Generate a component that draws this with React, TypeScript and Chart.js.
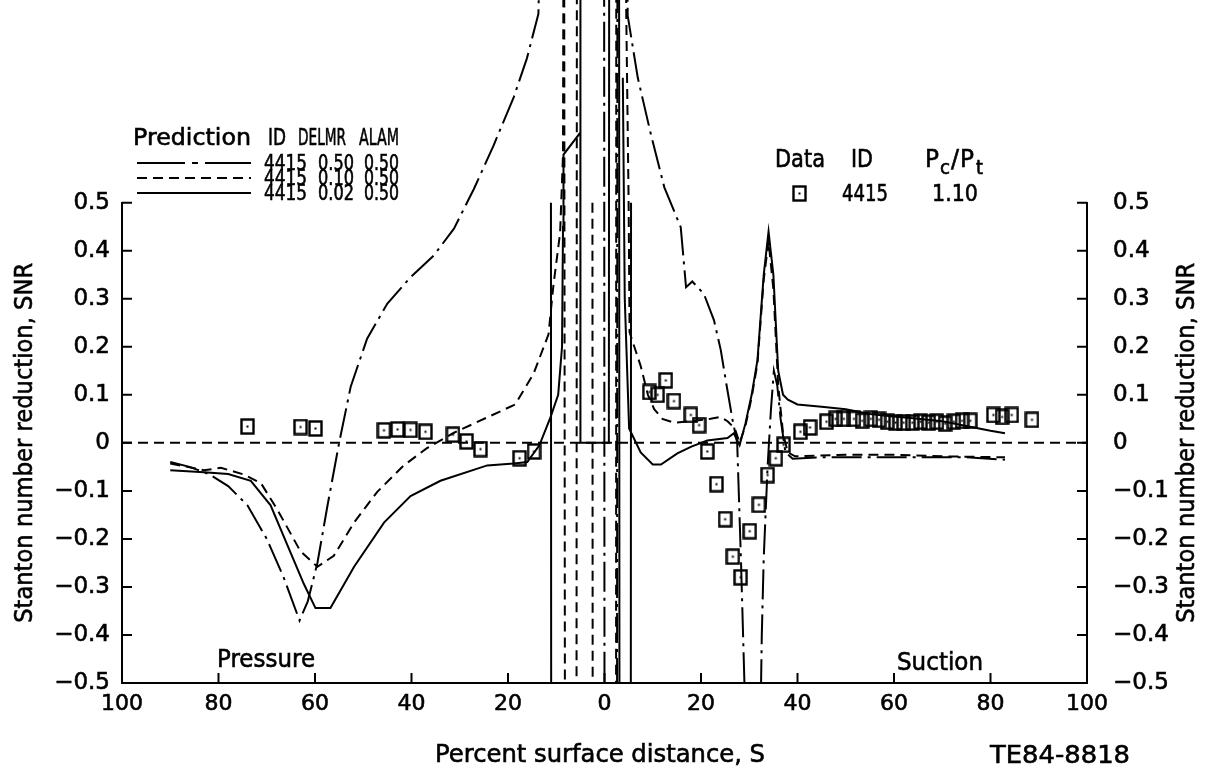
import React, { useEffect, useRef } from "react";
import { Chart, registerables } from "chart.js";
Chart.register(...registerables);

// x: percent surface distance (negative = pressure side, positive = suction side)
const xTickValues = [-100, -80, -60, -40, -20, 0, 20, 40, 60, 80, 100];
const yTickValues = [-0.5, -0.4, -0.3, -0.2, -0.1, 0, 0.1, 0.2, 0.3, 0.4, 0.5];

// Prediction 4415, DELMR 0.50 (dash-dot)
const s050 = [-90, -86, -82, -78, -74, -70, -66.5, -63.2, -61.5, -59.5, -57.4, -55, -52.6, -49.2, -45, -40.2, -35.4, -31.2, -27.1, -23, -18.8, -16.1, -13.7, -12.3, -0.1, 0.0, 2.6, 2.7, 4.6, 4.8, 6.9, 9.6, 12.4, 15.8, 16.9, 18.2, 20.6, 22.7, 24.1, 25.3, 26.5, 27.5, 28.3, 29.0, 29.3, 32.3, 32.6, 33.0, 33.8, 34.5, 35.1, 35.8, 36.5, 37.5, 39, 45, 60, 75, 83];
const v050 = [-0.04, -0.05, -0.065, -0.09, -0.13, -0.2, -0.28, -0.37, -0.33, -0.25, -0.13, 0.0, 0.117, 0.217, 0.29, 0.345, 0.39, 0.446, 0.528, 0.619, 0.72, 0.8, 0.893, 1.5, 1.5, -0.6, -0.6, 1.5, 1.5, 0.89, 0.76, 0.643, 0.532, 0.449, 0.324, 0.336, 0.31, 0.255, 0.193, 0.12, 0.05, 0.0, -0.25, -0.5, -0.6, -0.6, -0.4, -0.24, -0.05, 0.07, 0.15, 0.12, 0.05, -0.02, -0.033, -0.03, -0.03, -0.03, -0.035];

// Prediction 4415, DELMR 0.10 (dashed); null = pen lifted
const s010 = [-90, -83, -79.5, -74.7, -71.2, -67.8, -63, -59.5, -56.1, -51.9, -47.1, -41.6, -36.8, -31.2, -24.3, -18.5, -14.7, -11.6, -10.6, -9.2, -8.6, -8.4, -8.2, -5.8, -5.7, null, -2.5, -2.45, 2.4, 2.45, 4.3, 4.5, 5.0, 5.2, 7.5, 9, 10.3, 12, 14.4, 18, 22, 24, 25.5, 27, 28, 29.2, 30.5, 31.7, 33, 34, 35, 36, 37, 38, 39.5, 50, 60, 70, 83];
const v010 = [-0.043, -0.057, -0.052, -0.066, -0.084, -0.139, -0.226, -0.258, -0.235, -0.166, -0.102, -0.047, -0.011, 0.021, 0.053, 0.08, 0.144, 0.226, 0.327, 0.437, 0.6, 1.5, -0.6, -0.6, 1.5, null, 0.5, -0.6, -0.6, 1.5, 1.5, 0.9, 0.5, 0.23, 0.16, 0.1, 0.07, 0.05, 0.042, 0.045, 0.05, 0.054, 0.045, 0.03, 0.0, 0.035, 0.095, 0.165, 0.34, 0.42, 0.32, 0.12, 0.02, -0.02, -0.028, -0.025, -0.025, -0.028, -0.03];

// Prediction 4415, DELMR 0.02 (solid); null = pen lifted
const s002 = [-90, -83, -78, -73.3, -69.2, -65, -62.3, -59.9, -56.8, -51.9, -45.7, -40.2, -34, -24.3, -18.8, -16, -13.5, -11.2, -9.6, -8.8, -8.6, -8.5, -5.0, -5.0, -4.98, -4.98, 0.9, 1.0, 3.0, 3.1, 5.45, 5.5, null, 3.8, 4.2, 5.1, 7.5, 10, 11.7, 15.1, 18, 21.3, 25.5, 26.8, 28, 29.2, 30.5, 31.7, 33, 34, 35, 36, 37, 38, 40, 45, 50, 55, 60, 65, 70, 75, 80, 83, null, -11.1, -11.05];
const v002 = [-0.057, -0.061, -0.065, -0.079, -0.13, -0.23, -0.294, -0.344, -0.344, -0.258, -0.166, -0.111, -0.079, -0.047, -0.043, -0.04, -0.005, 0.053, 0.1, 0.2, 0.45, 0.6, 0.646, 1.5, 1.5, 0.0, 0.0, 1.5, 1.5, -0.6, -0.6, 0.5, null, 0.76, 0.3, 0.03, -0.02, -0.045, -0.045, -0.022, -0.008, 0.005, 0.01, 0.02, -0.005, 0.04, 0.1, 0.172, 0.35, 0.44, 0.35, 0.15, 0.1, 0.09, 0.08, 0.075, 0.07, 0.06, 0.055, 0.05, 0.045, 0.035, 0.025, 0.02, null, 0.5, -0.6];

// Data 4415, Pc/Pt = 1.10
const sData = [-74.0, -63.0, -59.9, -45.7, -42.9, -40.2, -37.1, -31.4, -28.6, -25.7, -17.6, -14.6, 9.3, 11.0, 12.7, 14.4, 17.9, 19.6, 21.3, 23.2, 25.0, 26.6, 28.2, 30.1, 32.0, 33.8, 35.5, 37.1, 40.6, 42.6, 46.0, 47.9, 49.6, 51.7, 53.4, 55.2, 56.9, 58.6, 60.3, 62.0, 63.8, 65.5, 67.2, 68.9, 70.6, 72.4, 74.1, 75.8, 80.6, 82.4, 84.4, 88.6];
const vData = [0.034, 0.033, 0.030, 0.026, 0.028, 0.027, 0.023, 0.017, 0.003, -0.013, -0.032, -0.018, 0.106, 0.1, 0.13, 0.087, 0.058, 0.037, -0.018, -0.086, -0.159, -0.237, -0.28, -0.184, -0.129, -0.067, -0.032, -0.004, 0.023, 0.032, 0.044, 0.05, 0.05, 0.05, 0.046, 0.05, 0.048, 0.044, 0.042, 0.042, 0.042, 0.044, 0.042, 0.044, 0.04, 0.044, 0.046, 0.046, 0.058, 0.054, 0.058, 0.048];

// zero reference line
const sZero = [-100, 100];
const vZero = [0, 0];

const FONT = '"DejaVu Sans", "Liberation Sans", sans-serif';
const INK = "#000";

const pts = (s: (number | null)[], v: (number | null)[]) =>
  s.map((x, i) => ({ x: x as number, y: v[i] as number }));

function makeSquare(): HTMLCanvasElement {
  const c = document.createElement("canvas");
  c.width = 15;
  c.height = 17;
  const g = c.getContext("2d")!;
  g.strokeStyle = INK;
  g.lineWidth = 2.4;
  g.strokeRect(1.5, 1.5, 12, 14);
  g.fillStyle = INK;
  g.fillRect(6.5, 7.5, 2, 2);
  return c;
}

// draw text stretched/squeezed to a given width (plotter lettering)
function fit(ctx: CanvasRenderingContext2D, s: string, x: number, y: number, size: number, width: number, rot = 0) {
  ctx.save();
  ctx.font = `${size}px ${FONT}`;
  const w = ctx.measureText(s).width;
  const sx = width / w;
  ctx.translate(x, y);
  if (rot) ctx.rotate(rot);
  ctx.scale(sx, 1);
  ctx.fillStyle = INK;
  ctx.strokeStyle = INK;
  ctx.lineWidth = 0.6;
  ctx.textAlign = "left";
  ctx.textBaseline = "alphabetic";
  ctx.fillText(s, 0, 0);
  ctx.strokeText(s, 0, 0);
  ctx.restore();
}

function seg(ctx: CanvasRenderingContext2D, x1: number, y1: number, x2: number, y2: number, dash: number[]) {
  ctx.save();
  ctx.strokeStyle = INK;
  ctx.lineWidth = 2;
  ctx.setLineDash(dash);
  ctx.beginPath();
  ctx.moveTo(x1, y1);
  ctx.lineTo(x2, y2);
  ctx.stroke();
  ctx.restore();
}

const DASH = [10, 6];
const DASHDOT = [30, 6, 3, 6];

let sq: HTMLCanvasElement;

const decor = {
  id: "decor",
  afterDraw(chart: any) {
    const { ctx, chartArea } = chart;
    const xs = chart.scales.x;
    const ys = chart.scales.y;
    ctx.save();
    ctx.strokeStyle = INK;
    ctx.lineWidth = 2;
    ctx.setLineDash([]);
    // inward tick marks
    for (const v of xTickValues) {
      const px = xs.getPixelForValue(v);
      ctx.beginPath();
      ctx.moveTo(px, chartArea.bottom);
      ctx.lineTo(px, chartArea.bottom - 10);
      ctx.stroke();
    }
    for (const v of yTickValues) {
      const py = ys.getPixelForValue(v);
      ctx.beginPath();
      ctx.moveTo(chartArea.left, py);
      ctx.lineTo(chartArea.left + 10, py);
      ctx.moveTo(chartArea.right, py);
      ctx.lineTo(chartArea.right - 10, py);
      ctx.stroke();
    }
    ctx.restore();

    const midY = ys.getPixelForValue(0);
    const TL = 360;
    // axis titles
    fit(ctx, "Stanton number reduction, SNR", 32, midY + TL / 2, 25, TL, -Math.PI / 2);
    fit(ctx, "Stanton number reduction, SNR", 1194, midY + TL / 2, 25, TL, -Math.PI / 2);
    fit(ctx, "Percent surface distance, S", 435, 762, 25, 330);
    fit(ctx, "TE84-8818", 990, 763, 25, 140);
    fit(ctx, "Pressure", 217, 667, 25, 98);
    fit(ctx, "Suction", 897, 670, 25, 86);

    // prediction legend
    fit(ctx, "Prediction", 133, 145, 23, 118);
    fit(ctx, "ID", 268, 145, 23, 18);
    fit(ctx, "DELMR", 298, 145, 23, 48);
    fit(ctx, "ALAM", 359, 145, 23, 40);
    const rows = [
      { y: 170, dash: null as number[] | null, d: "0.50" },
      { y: 185, dash: DASH, d: "0.10" },
      { y: 200, dash: [] as number[], d: "0.02" },
    ];
    for (const r of rows) {
      const ly = r.y - 7;
      if (r.dash) {
        seg(ctx, 137, ly, 251, ly, r.dash);
      } else {
        seg(ctx, 137, ly, 185, ly, []);
        seg(ctx, 192, ly, 198, ly, []);
        seg(ctx, 205, ly, 251, ly, []);
      }
      fit(ctx, "4415", 264, r.y, 21, 43);
      fit(ctx, r.d, 318, r.y, 21, 36);
      fit(ctx, "0.50", 364, r.y, 21, 35);
    }

    // data legend
    fit(ctx, "Data", 775, 167, 24, 50);
    fit(ctx, "ID", 851, 167, 24, 22);
    fit(ctx, "P", 925, 167, 24, 14);
    fit(ctx, "c", 940, 174, 19, 10);
    fit(ctx, "/", 951, 167, 24, 8);
    fit(ctx, "P", 960, 167, 24, 14);
    fit(ctx, "t", 976, 174, 19, 7);
    ctx.drawImage(sq, 792, 185);
    fit(ctx, "4415", 842, 201, 23, 46);
    fit(ctx, "1.10", 932, 201, 23, 46);
  },
};

export default function App() {
  const ref = useRef<HTMLCanvasElement>(null);
  useEffect(() => {
    sq = makeSquare();
    const CLIP = { left: 0, right: 0, bottom: 0, top: false } as any;
    const line = (s: any, v: any, dash: number[]) => ({
      data: pts(s, v),
      showLine: true,
      borderColor: INK,
      borderWidth: 2,
      borderDash: dash,
      pointRadius: 0,
      pointHoverRadius: 0,
      spanGaps: false,
      tension: 0,
      clip: CLIP,
    });
    const yAxis = (pos: "left" | "right", width: number, pad: number) => ({
      type: "linear" as const,
      position: pos,
      min: -0.5,
      max: 0.5,
      afterBuildTicks: (s: any) => {
        s.ticks = yTickValues.map((value) => ({ value }));
      },
      afterFit: (s: any) => {
        s.width = width;
      },
      grid: { display: false, drawTicks: false },
      border: { display: true, color: INK, width: 2 },
      ticks: {
        color: INK,
        padding: pad,
        textStrokeColor: INK,
        textStrokeWidth: 0.6,
        font: { family: FONT, size: 23 },
        callback: (v: any) => (Math.abs(v) < 1e-9 ? "0" : Number(v).toFixed(1).replace("-", "\u2212")),
      },
    });
    const chart = new Chart(ref.current!, {
      type: "scatter",
      data: {
        datasets: [
          line(sZero, vZero, DASH),
          line(s050, v050, DASHDOT),
          line(s010, v010, DASH),
          line(s002, v002, []),
          {
            data: pts(sData, vData),
            showLine: false,
            pointStyle: sq,
            pointRadius: 7,
            pointHoverRadius: 7,
            clip: CLIP,
          } as any,
        ],
      },
      options: {
        animation: false,
        responsive: false,
        events: [],
        layout: { padding: { top: 202.7, left: 0, right: 0, bottom: 0 } },
        plugins: { legend: { display: false }, tooltip: { enabled: false } },
        scales: {
          x: {
            type: "linear",
            position: "bottom",
            min: -100,
            max: 100,
            afterBuildTicks: (s: any) => {
              s.ticks = xTickValues.map((value) => ({ value }));
            },
            afterFit: (s: any) => {
              s.height = 84;
            },
            grid: { display: false, drawTicks: false },
            border: { display: true, color: INK, width: 2 },
            ticks: {
              color: INK,
              padding: 8,
              maxRotation: 0,
              autoSkip: false,
              textStrokeColor: INK,
              textStrokeWidth: 0.6,
              font: { family: FONT, size: 22 },
              callback: (v: any) => String(Math.abs(Number(v))),
            },
          },
          y: yAxis("left", 122, 12),
          y2: yAxis("right", 118, 26),
        },
      } as any,
      plugins: [decor],
    });
    return () => chart.destroy();
  }, []);
  return (
    <div style={{ position: "absolute", left: 0, top: 0, width: 1205, height: 767, background: "#fff" }}>
      <canvas ref={ref} width={1205} height={767} style={{ width: 1205, height: 767, display: "block" }} />
    </div>
  );
}
